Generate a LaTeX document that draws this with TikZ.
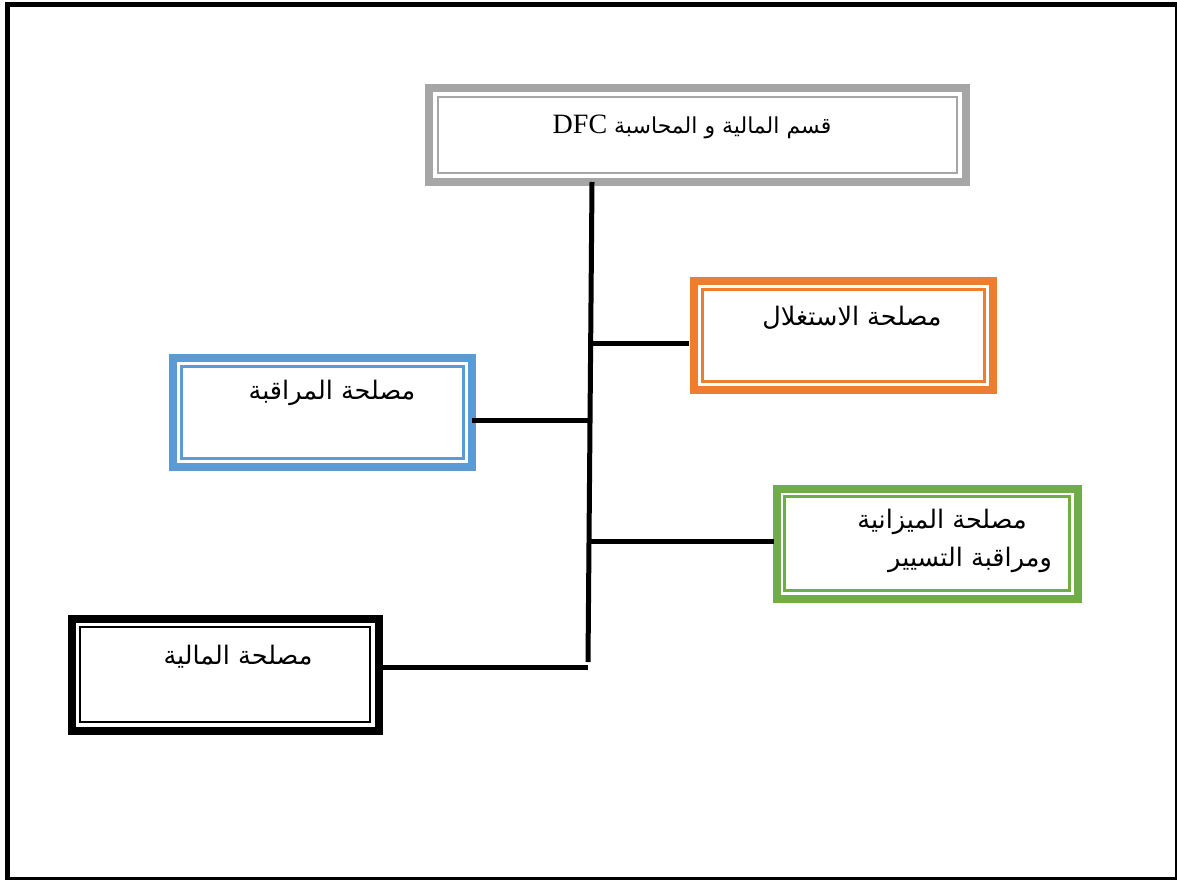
\documentclass[tikz,border=0pt]{standalone}
\usepackage{fontspec}
\setmainfont{Liberation Serif}
\newfontfamily\arabicfont[Script=Arabic]{DejaVu Sans}
\TeXXeTstate=1
\definecolor{boxgrey}{RGB}{166,166,166}
\definecolor{boxorange}{RGB}{237,125,49}
\definecolor{boxblue}{RGB}{91,155,213}
\definecolor{boxgreen}{RGB}{112,173,71}
\tikzset{
  deptframe/.style={draw=#1, line width=8pt, rectangle, inner sep=0pt, outer sep=0pt, fill=white},
  innerline/.style={draw=#1, line width=2.2pt},
  link/.style={draw=black, line width=5pt},
  deptlabel/.style={font=\fontsize{25.5}{32}\selectfont\arabicfont, inner sep=0pt, align=center},
}
% double-ruled department box: #1 name, #2 centre, #3 width, #4 height, #5 colour, #6 inset of inner rule
\newcommand\deptbox[6]{%
  \node[deptframe=#5, minimum width=#3pt, minimum height=#4pt] (#1) at (#2) {};
  \draw[innerline=#5] ([xshift=#6pt,yshift=-#6pt]#1.north west) rectangle ([xshift=-#6pt,yshift=#6pt]#1.south east);
}
\begin{document}
\begin{tikzpicture}[x=1pt, y=-1pt]
\useasboundingbox (0,0) rectangle (1177,882);
% page frame: heavy top and left edges, light right and bottom edges
\draw[line width=5pt] (7.5,880) -- (7.5,4.5) -- (1177,4.5);
\draw[line width=2.5pt] (1175.8,4.5) -- (1175.8,878.5);
\draw[line width=3pt] (7.5,878.5) -- (1177,878.5);

% boxes
\deptbox{dfc}{697.5,135}{537}{94}{boxgrey}{9}
\deptbox{expl}{843.5,335.5}{299}{109}{boxorange}{8.5}
\deptbox{ctrl}{322.5,412.5}{299}{109}{boxblue}{8.5}
\deptbox{budget}{927,543.5}{301}{110}{boxgreen}{8}
\deptbox{fin}{225,674.5}{307}{112}{black}{8.5}

% labels
\node[deptlabel, font=\fontsize{22}{30}\selectfont\arabicfont] (dfcText) at (692,127) {\beginR قسم المالية و المحاسبة \beginL{\rmfamily\fontsize{28}{30}\selectfont DFC}\endL\endR};
\node[deptlabel] (explText) at (852,318) {\beginR مصلحة الاستغلال\endR};
\node[deptlabel] (ctrlText) at (332,393) {\beginR مصلحة المراقبة\endR};
\node[deptlabel] (budgetText1) at (942,522) {\beginR مصلحة الميزانية\endR};
\node[deptlabel] (budgetText2) at (970,560) {\beginR ومراقبة التسيير\endR};
\node[deptlabel] (finText) at (238,657) {\beginR مصلحة المالية\endR};

% trunk and branches
\coordinate (trunkTop) at (dfc.south -| 592,0);
\coordinate (trunkBot) at (588,662);
\draw[link] (trunkTop) -- (trunkBot);
\coordinate (jExpl) at (590.5,343);
\coordinate (jCtrl) at (589.8,420);
\coordinate (jBudget) at (591,541);
\coordinate (jFin) at (588,667);
\draw[link] (jExpl) -- ([xshift=-5pt]jExpl -| expl.west);
\draw[link] (ctrl.east |- jCtrl) -- (jCtrl);
\draw[link] (jBudget) -- ([xshift=-3pt]jBudget -| budget.west);
\draw[link] (fin.east |- jFin) -- (jFin);
\end{tikzpicture}
\end{document}
